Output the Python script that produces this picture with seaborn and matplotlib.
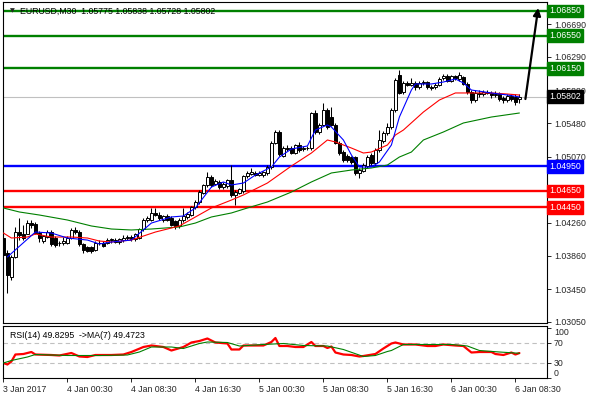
import numpy as np
import pandas as pd
import matplotlib
matplotlib.use("Agg")
import matplotlib.pyplot as plt
import matplotlib.transforms as mtransforms
import seaborn as sns

sns.set_style("white")
plt.rcParams['font.family'] = ['Liberation Sans', 'DejaVu Sans']

# ---------------- data ----------------
opens = [1.0408,1.0389,1.0360,1.0384,1.0415,1.0412,1.0413,1.0426,1.0425,1.0414,
         1.0404,1.0409,1.0415,1.0408,1.0401,1.0402,1.0402,1.0408,1.0417,1.0415,
         1.0400,1.0396,1.0396,1.0393,1.0402,1.0401,1.0402,1.0405,1.0405,1.0403,
         1.0405,1.0407,1.0409,1.0406,1.0408,1.0418,1.0429,1.0430,1.0438,1.0436,
         1.0429,1.0434,1.0432,1.0428,1.0422,1.0429,1.0433,1.0436,1.0445,1.0451,
         1.0463,1.0472,1.0482,1.0474,1.0476,1.0470,1.0471,1.0478,1.0460,1.0463,
         1.0465,1.0483,1.0486,1.0487,1.0485,1.0484,1.0487,1.0494,1.0524,1.0537,
         1.0508,1.0518,1.0518,1.0512,1.0521,1.0516,1.0518,1.0517,1.0560,1.0537,
         1.0546,1.0564,1.0556,1.0546,1.0524,1.0513,1.0508,1.0506,1.0506,1.0487,
         1.0490,1.0495,1.0509,1.0499,1.0515,1.0526,1.0536,1.0543,1.0564,1.0607,
         1.0586,1.0597,1.0595,1.0597,1.0592,1.0597,1.0598,1.0592,1.0592,1.0595,
         1.0603,1.0606,1.0600,1.0605,1.0602,1.0604,1.0596,1.0586,1.0576,1.0585,
         1.0583,1.0586,1.0585,1.0582,1.0584,1.0579,1.0576,1.0581,1.0580,1.05775]
highs = [1.0415,1.0393,1.0387,1.0421,1.0432,1.0424,1.0430,1.0430,1.0427,1.0416,
         1.0411,1.0417,1.0417,1.0410,1.0404,1.0409,1.0410,1.0420,1.0421,1.0417,
         1.0402,1.0398,1.0398,1.0404,1.0405,1.0404,1.0407,1.0408,1.0408,1.0408,
         1.0411,1.0411,1.0411,1.0414,1.0420,1.0432,1.0434,1.0444,1.0444,1.0439,
         1.0436,1.0437,1.0434,1.0430,1.0432,1.0444,1.0439,1.0447,1.0454,1.0466,
         1.0474,1.0488,1.0485,1.0480,1.0479,1.0476,1.0480,1.0497,1.0466,1.0469,
         1.0485,1.0489,1.0493,1.0490,1.0489,1.0490,1.0497,1.0526,1.0540,1.0539,
         1.0520,1.0521,1.0520,1.0523,1.0525,1.0520,1.0520,1.0562,1.0564,1.0548,
         1.0572,1.0567,1.0568,1.0548,1.0526,1.0515,1.0510,1.0508,1.0508,1.0493,
         1.0499,1.0509,1.0511,1.0517,1.0540,1.0538,1.0548,1.0566,1.0603,1.0613,
         1.0600,1.0600,1.0603,1.0600,1.0600,1.0601,1.0600,1.0595,1.0597,1.0604,
         1.0608,1.0608,1.0607,1.0607,1.0610,1.0606,1.0598,1.0588,1.0588,1.0588,
         1.0589,1.0589,1.0587,1.0587,1.0586,1.0581,1.0584,1.0583,1.0583,1.05838]
lows = [1.0383,1.0340,1.0356,1.0383,1.0405,1.0405,1.0412,1.0420,1.0412,1.0403,
        1.0402,1.0407,1.0398,1.0397,1.0398,1.0399,1.0400,1.0406,1.0413,1.0398,
        1.0389,1.0390,1.0389,1.0392,1.0399,1.0396,1.0400,1.0402,1.0401,1.0400,
        1.0403,1.0405,1.0404,1.0404,1.0406,1.0416,1.0427,1.0428,1.0434,1.0430,
        1.0427,1.0428,1.0422,1.0418,1.0420,1.0427,1.0431,1.0434,1.0443,1.0449,
        1.0461,1.0470,1.0470,1.0472,1.0468,1.0467,1.0469,1.0458,1.0448,1.0461,
        1.0463,1.0481,1.0484,1.0483,1.0483,1.0482,1.0485,1.0492,1.0522,1.0508,
        1.0506,1.0514,1.0510,1.0510,1.0513,1.0514,1.0515,1.0515,1.0535,1.0535,
        1.0544,1.0541,1.0544,1.0522,1.0509,1.0501,1.0501,1.0498,1.0485,1.0481,
        1.0488,1.0493,1.0497,1.0497,1.0513,1.0524,1.0534,1.0541,1.0562,1.0583,
        1.0584,1.0593,1.0593,1.0589,1.0590,1.0595,1.0590,1.0589,1.0590,1.0593,
        1.0601,1.0598,1.0598,1.0601,1.0600,1.0594,1.0584,1.0572,1.0574,1.0580,
        1.0581,1.0583,1.0579,1.0580,1.0575,1.0573,1.0574,1.0575,1.0570,1.05728]
closes = [1.0387,1.0362,1.0384,1.0415,1.0411,1.0407,1.0426,1.0424,1.0414,1.0408,
          1.0410,1.0415,1.0400,1.0399,1.0402,1.0404,1.0408,1.0417,1.0415,1.0400,
          1.0393,1.0392,1.0392,1.0402,1.0401,1.0398,1.0405,1.0406,1.0403,1.0406,
          1.0408,1.0409,1.0406,1.0412,1.0418,1.0430,1.0432,1.0438,1.0436,1.0432,
          1.0434,1.0430,1.0424,1.0422,1.0430,1.0434,1.0437,1.0445,1.0452,1.0464,
          1.0472,1.0482,1.0472,1.0477,1.0470,1.0474,1.0478,1.0460,1.0464,1.0467,
          1.0483,1.0487,1.0488,1.0485,1.0487,1.0488,1.0494,1.0524,1.0537,1.0510,
          1.0518,1.0516,1.0512,1.0521,1.0515,1.0518,1.0517,1.0560,1.0537,1.0546,
          1.0564,1.0543,1.0546,1.0524,1.0511,1.0503,1.0503,1.0500,1.0487,1.0491,
          1.0497,1.0507,1.0499,1.0515,1.0527,1.0536,1.0543,1.0564,1.0601,1.0585,
          1.0597,1.0595,1.0597,1.0592,1.0597,1.0598,1.0592,1.0591,1.0595,1.0602,
          1.0606,1.0600,1.0605,1.0603,1.0607,1.0596,1.0586,1.0576,1.0585,1.0583,
          1.0586,1.0585,1.0582,1.0584,1.0578,1.0576,1.0581,1.0578,1.0574,1.05802]

ma_fast_idx = [1,8,12,16,21,24,27,32,37,42,45,48,52,55,57,60,63,67,69,72,
               76,78,81,82,85,87,89,92,94,97,99,102,103,107,110,113,115,117,122,126,129]
ma_fast_val = [1.03843,1.04148,1.04136,1.04075,1.04050,1.04002,1.04026,1.04050,1.04258,1.04332,
               1.04344,1.04442,1.04698,1.04760,1.04723,1.04747,1.04845,1.04943,1.05065,1.05163,
               1.05200,1.05395,1.05457,1.05432,1.05273,1.05090,1.04943,1.04943,1.05004,1.05212,
               1.05554,1.05884,1.05958,1.05958,1.05982,1.06019,1.05970,1.05884,1.05848,1.05823,1.05799]
ma_mid_idx = [0,2,6,8,12,17,21,24,27,32,38,44,48,52,57,60,63,66,72,77,
              81,83,87,90,92,96,98,100,105,109,113,117,122,126,129]
ma_mid_val = [1.04136,1.04075,1.04087,1.04124,1.04087,1.04087,1.04075,1.04038,1.04026,1.04050,
              1.04148,1.04222,1.04332,1.04442,1.04539,1.04601,1.04674,1.04747,1.04955,1.05114,
              1.05273,1.05249,1.05175,1.05114,1.05126,1.05212,1.05334,1.05395,1.05615,1.05762,
              1.05848,1.05848,1.05848,1.05835,1.05823]
ma_slow_idx = [0,4,9,16,22,27,32,37,44,48,52,57,61,66,72,77,82,87,92,96,
               99,102,105,110,115,122,129]
ma_slow_val = [1.04442,1.04393,1.04356,1.04295,1.04222,1.04185,1.04173,1.04185,1.04210,1.04258,
               1.04332,1.04381,1.04442,1.04515,1.04637,1.04760,1.04870,1.04906,1.04931,1.04967,
               1.05065,1.05126,1.05273,1.05371,1.05481,1.05554,1.05603]

rsi_idx = [0,1,2,3,5,7,8,12,14,17,19,21,23,27,30,32,35,37,40,42,
           45,47,49,51,53,56,57,59,60,65,67,68,69,71,73,75,77,78,80,81,
           82,83,85,87,89,90,93,95,97,98,100,103,106,108,110,113,115,117,119,122,
           123,125,127,128,129]
rsi_val = [30,27,33,47,48,52,47,46,45,50,43,42,46,46,47,52,62,65,62,55,
           62,71,74,79,71,69,57,57,65,65,72,80,64,64,62,62,72,64,64,60,
           63,51,47,46,43,44,48,59,69,71,67,67,64,64,67,65,64,51,52,52,
           48,46,51,47,49.83]
rsi_ma_idx = [0,2,6,8,16,24,31,34,37,42,45,47,49,51,56,59,65,70,75,81,
              85,90,93,96,97,100,105,112,116,119,124,129]
rsi_ma_val = [30,35,42,47,45,45,46,52,62,62,59,64,69,72,71,64,67,69,65,64,
              57,43,45,53,55,67,67,67,64,55,52,49.47]

resist_levels = [1.0685, 1.0655, 1.0615]
pivot_level = 1.0495
support_levels = [1.0465, 1.0445]
last_price = 1.05802
price_ticks = [1.0305, 1.0345, 1.0386, 1.0426, 1.0507, 1.0548, 1.0588, 1.0629, 1.0669]
time_tick_idx = [0, 16, 32, 48, 64, 80, 96, 112, 128]
time_tick_labels = ["3 Jan 2017", "4 Jan 00:30", "4 Jan 08:30", "4 Jan 16:30",
                    "5 Jan 00:30", "5 Jan 08:30", "5 Jan 16:30", "6 Jan 00:30", "6 Jan 08:30"]
arrow_from = (130.5, 1.05774)
arrow_to = (133.7, 1.06887)
title_text = "EURUSD,M30  1.05775 1.05838 1.05728 1.05802"
rsi_text = "RSI(14) 49.8295  ->MA(7) 49.4723"

# ---------------- figure ----------------
FS = 6.3
W, H = 590, 400
fig = plt.figure(figsize=(W / 100, H / 100), dpi=100)
fig.patch.set_facecolor("white")
ax = fig.add_axes([3 / W, 1 - 323 / H, 544 / W, 321 / H])
axr = fig.add_axes([3 / W, 1 - 378 / H, 544 / W, 52 / H])

n = len(closes)
x = np.arange(n)
o = np.array(opens); c = np.array(closes); h = np.array(highs); l = np.array(lows)

GREEN = "#008000"; BLUE = "#0000FF"; RED = "#FF0000"

# level lines
for lv in resist_levels:
    ax.axhline(lv, color=GREEN, lw=1.7, zorder=1)
ax.axhline(pivot_level, color=BLUE, lw=1.7, zorder=1)
for lv in support_levels:
    ax.axhline(lv, color=RED, lw=1.7, zorder=1)
ax.axhline(last_price, color="#C0C0C0", lw=0.8, zorder=0.5)

# candles
ax.vlines(x, l, h, color="black", lw=0.75, zorder=2)
bull = c >= o
ax.bar(x, np.abs(c - o), bottom=np.minimum(o, c), width=0.72,
       color=np.where(bull, "white", "black"), edgecolor="black", linewidth=0.7, zorder=3)

# moving averages
sns.lineplot(x=ma_slow_idx, y=ma_slow_val, ax=ax, color=GREEN, lw=0.8, zorder=4)
sns.lineplot(x=ma_mid_idx, y=ma_mid_val, ax=ax, color=RED, lw=0.8, zorder=4)
sns.lineplot(x=ma_fast_idx, y=ma_fast_val, ax=ax, color=BLUE, lw=0.8, zorder=4)

ax.annotate("", xy=arrow_to, xytext=arrow_from,
            arrowprops=dict(arrowstyle="-|>", color="black", lw=1.6, mutation_scale=11,
                            shrinkA=0, shrinkB=0), zorder=6)

ax.set_xlim(-0.1, 135.9)
ax.set_ylim(1.03036, 1.0696)
ax.set_xticks([])
ax.yaxis.tick_right()
ax.set_yticks(price_ticks)
ax.set_yticklabels([f"{v:.5f}" for v in price_ticks], fontsize=FS)
ax.tick_params(axis="y", which="both", direction="out", length=3, width=0.7, pad=2, right=True)
ax.set_ylabel(""); ax.set_xlabel("")
for s in ax.spines.values():
    s.set_color("black"); s.set_linewidth(0.8)

trans = mtransforms.blended_transform_factory(ax.transAxes, ax.transData)
boxes = [(v, GREEN) for v in resist_levels] + [(pivot_level, BLUE)] + \
        [(v, RED) for v in support_levels] + [(last_price, "black")]
for v, col in boxes:
    ax.text(1.0035, v, f"{v:.5f}", transform=trans, fontsize=FS, color="white",
            va="center", ha="left", clip_on=False, zorder=10,
            bbox=dict(boxstyle="square,pad=0.22", fc=col, ec=col))

ax.text(7 / 544, 1 - 9 / 321, "\u25BC", transform=ax.transAxes, fontsize=4.5,
        va="center", ha="left", family=["DejaVu Sans"], zorder=7)
ax.text(17 / 544, 1 - 9 / 321, title_text, transform=ax.transAxes, fontsize=FS,
        va="center", ha="left", color="black", zorder=7)

# RSI panel
axr.axhline(70, color="#C0C0C0", lw=0.8, ls=(0, (4, 3)), zorder=1)
axr.axhline(30, color="#C0C0C0", lw=0.8, ls=(0, (4, 3)), zorder=1)
sns.lineplot(x=rsi_ma_idx, y=rsi_ma_val, ax=axr, color=GREEN, lw=0.8, zorder=3)
sns.lineplot(x=rsi_idx, y=rsi_val, ax=axr, color=RED, lw=1.6, zorder=2)
axr.set_xlim(-0.1, 135.9)
axr.set_ylim(0, 104)
axr.yaxis.tick_right()
axr.set_yticks([0, 30, 70, 100])
labs = axr.set_yticklabels(["0", "30", "70", "100"], fontsize=FS)
labs[0].set_va("bottom")
labs[3].set_va("top")
axr.tick_params(axis="y", direction="out", length=3, width=0.7, pad=2, right=True)
axr.set_xticks(time_tick_idx)
axr.set_xticklabels(time_tick_labels, fontsize=FS, ha="left")
axr.tick_params(axis="x", direction="out", length=3, width=0.7, pad=2, bottom=True)
axr.set_ylabel(""); axr.set_xlabel("")
for s in axr.spines.values():
    s.set_color("black"); s.set_linewidth(0.8)
axr.text(7 / 544, 1 - 10 / 52, rsi_text, transform=axr.transAxes, fontsize=FS,
         va="center", ha="left", color="black")

fig.savefig("out.png", dpi=100, facecolor="white")
